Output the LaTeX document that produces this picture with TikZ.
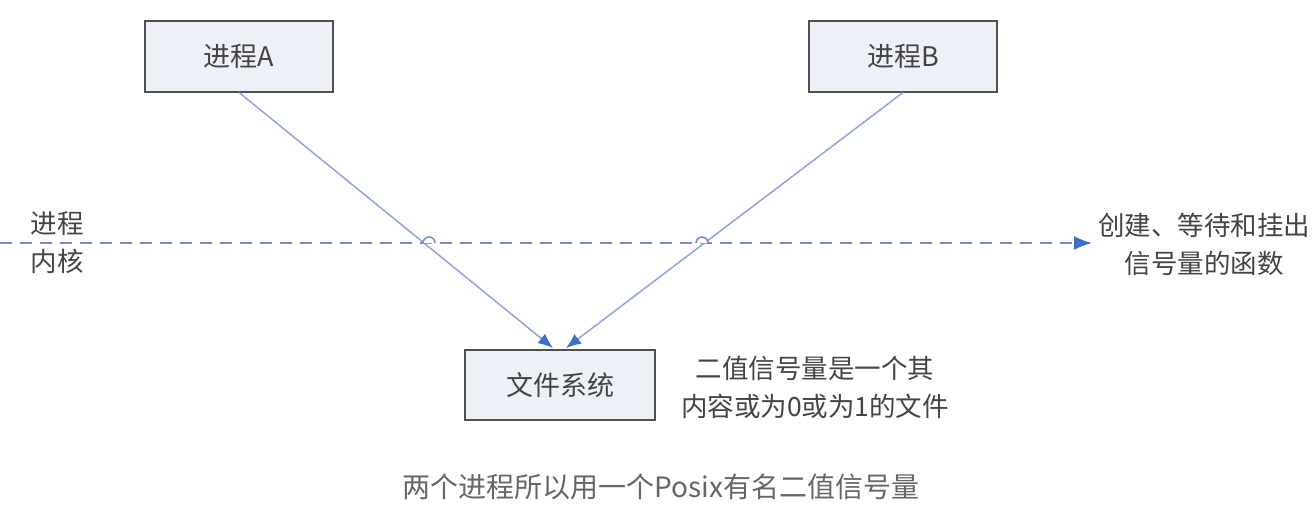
\documentclass[tikz,border=0pt]{standalone}
\usepackage{fontspec}
\newfontfamily\cjk{Noto Sans CJK SC}
\usetikzlibrary{arrows.meta}
\definecolor{boxfill}{HTML}{EEF0F8}
\definecolor{boxline}{HTML}{505050}
\definecolor{linkc}{HTML}{8EA4E6}
\definecolor{tipc}{HTML}{3A6FCC}
\definecolor{dashc}{HTML}{7A88D8}
\definecolor{txt}{HTML}{444444}
\definecolor{captc}{HTML}{666666}
\begin{document}
\begin{tikzpicture}[x=1pt,y=-1pt,
  procbox/.style={draw=boxline,line width=2pt,fill=boxfill,minimum width=188pt,minimum height=71pt,inner sep=0pt,font=\cjk\fontsize{27}{32}\selectfont,text=txt},
  link/.style={draw=linkc,line width=1.5pt,-{Latex[length=15pt,width=12pt,color=tipc,fill=tipc]}},
  lbl/.style={font=\cjk\fontsize{26.5}{38}\selectfont,text=txt,align=center,inner sep=0pt},
  dashln/.style={draw=dashc,line width=1.8pt,dash pattern=on 12pt off 8pt}]
\useasboundingbox (0,0) rectangle (1313,506);
\node[procbox] (A) at (239,56) {进程A};
\node[procbox] (B) at (903,56) {进程B};
\node[procbox,minimum width=190pt,minimum height=70pt] (fs) at (560,385) {文件系统};
\coordinate (fsL) at (553,348);
\coordinate (fsR) at (566,348);
\draw[link] (A.south) -- (fsL);
\draw[link] (B.south) -- (fsR);
% dashed boundary line
\coordinate (dstart) at (0,243);
\coordinate (dend) at (1092,243);
\draw[dashln,-{Latex[length=18pt,width=14pt,color=tipc,fill=tipc]}] (dstart) -- (dend);
% hops at crossings
\draw[draw=dashc,line width=1.5pt,fill=white] (423,243) arc[start angle=180,end angle=0,radius=6pt];
\draw[draw=dashc,line width=1.5pt,fill=white] (696,243) arc[start angle=180,end angle=0,radius=6pt];
\node[lbl] (lk) at (57,243) {进程\\内核};
\node[lbl] (rt) at (1204,244) {创建、等待和挂出\\信号量的函数};
\node[lbl] (note) at (815,387) {二值信号量是一个其\\内容或为0或为1的文件};
\node[font=\cjk\fontsize{28}{32}\selectfont,text=captc,inner sep=0pt] (cap) at (661,487) {两个进程所以用一个Posix有名二值信号量};
\end{tikzpicture}
\end{document}
